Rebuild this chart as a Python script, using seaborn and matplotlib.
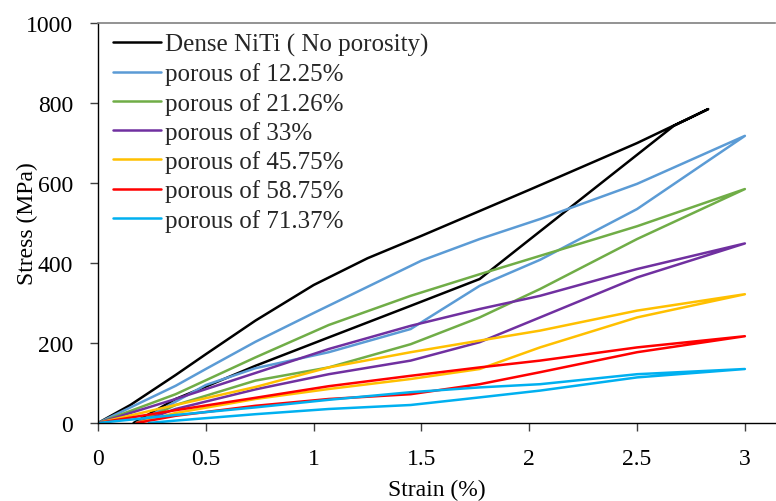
import matplotlib
matplotlib.use("Agg")
import matplotlib.pyplot as plt
import seaborn as sns
import pandas as pd

# ---- data (strain in %, stress in MPa) ----
series_names = ["Dense NiTi ( No porosity)", "porous of 12.25%", "porous of 21.26%",
                "porous of 33%", "porous of 45.75%", "porous of 58.75%", "porous of 71.37%"]
colors = ["#000000", "#5B9BD5", "#70AD47", "#7030A0", "#FFC000", "#FF0000", "#00B0F0"]

dense_load_strain = [0, 0.15, 0.36, 0.5, 0.73, 1.0, 1.25, 1.5, 2.0, 2.5, 2.83]
dense_load_stress = [0, 45, 120, 172, 256, 345, 412, 468, 583, 700, 785]
dense_unload_strain = [2.83, 2.67, 2.0, 1.77, 1.45, 1.07, 0.73, 0.5, 0.36, 0.165]
dense_unload_stress = [785, 743, 458, 360, 293, 214, 143, 91, 60, 0]

p12_load_strain = [0, 0.36, 0.5, 0.73, 1.0, 1.5, 1.77, 2.05, 2.5, 3.0]
p12_load_stress = [0, 93, 135, 203, 275, 406, 460, 510, 598, 718]
p12_unload_strain = [3.0, 2.5, 2.05, 1.77, 1.45, 1.07, 0.73, 0.5, 0.18]
p12_unload_stress = [718, 535, 408, 343, 235, 177, 137, 95, 0]

p21_load_strain = [0, 0.36, 0.73, 1.07, 1.45, 1.77, 2.05, 2.5, 3.0]
p21_load_stress = [0, 72, 164, 245, 318, 372, 418, 492, 585]
p21_unload_strain = [3.0, 2.5, 2.05, 1.77, 1.45, 1.07, 0.73, 0.36, 0.18]
p21_unload_stress = [585, 460, 335, 264, 197, 139, 106, 45, 0]

p33_load_strain = [0, 0.36, 0.73, 1.07, 1.45, 1.77, 2.05, 2.5, 3.0]
p33_load_stress = [0, 60, 125, 185, 243, 285, 318, 385, 449]
p33_unload_strain = [3.0, 2.5, 2.05, 1.77, 1.45, 1.07, 0.73, 0.36, 0.18]
p33_unload_stress = [449, 364, 264, 202, 156, 122, 84, 35, 0]

p45_load_strain = [0, 0.36, 0.73, 1.07, 1.45, 1.77, 2.05, 2.5, 3.0]
p45_load_stress = [0, 45, 90, 139, 177, 206, 231, 281, 322]
p45_unload_strain = [3.0, 2.5, 2.05, 1.77, 1.45, 1.07, 0.73, 0.36, 0.18]
p45_unload_stress = [322, 264, 189, 135, 110, 85, 60, 25, 0]

p58_load_strain = [0, 0.36, 0.73, 1.07, 1.45, 1.77, 2.05, 2.5, 3.0]
p58_load_stress = [0, 32, 63, 92, 118, 139, 156, 189, 217]
p58_unload_strain = [3.0, 2.5, 2.05, 1.77, 1.45, 1.07, 0.73, 0.36, 0.18]
p58_unload_stress = [217, 177, 127, 97, 72, 60, 43, 18, 0]

p71_load_strain = [0, 0.36, 0.73, 1.07, 1.45, 1.77, 2.05, 2.5, 3.0]
p71_load_stress = [0, 20, 39, 58, 77, 89, 97, 122, 135]
p71_unload_strain = [3.0, 2.5, 2.05, 1.77, 1.45, 1.07, 0.73, 0.36, 0.235]
p71_unload_stress = [135, 114, 81, 64, 45, 35, 22, 6, 0]

x_ticks = [0, 0.5, 1, 1.5, 2, 2.5, 3]
x_tick_labels = ["0", "0.5", "1", "1.5", "2", "2.5", "3"]
y_ticks = [0, 200, 400, 600, 800, 1000]

loops = [
    (dense_load_strain, dense_load_stress, dense_unload_strain, dense_unload_stress),
    (p12_load_strain, p12_load_stress, p12_unload_strain, p12_unload_stress),
    (p21_load_strain, p21_load_stress, p21_unload_strain, p21_unload_stress),
    (p33_load_strain, p33_load_stress, p33_unload_strain, p33_unload_stress),
    (p45_load_strain, p45_load_stress, p45_unload_strain, p45_unload_stress),
    (p58_load_strain, p58_load_stress, p58_unload_strain, p58_unload_stress),
    (p71_load_strain, p71_load_stress, p71_unload_strain, p71_unload_stress),
]

rows = []
for name, (ls, lst, us, ust) in zip(series_names, loops):
    strain = list(ls) + list(us[1:])
    stress = list(lst) + list(ust[1:])
    for i, (a, b) in enumerate(zip(strain, stress)):
        rows.append({"series": name, "order": i, "strain": a, "stress": b})
df = pd.DataFrame(rows)

# ---- plot ----
sns.set_theme(style="white")
plt.rcParams["font.family"] = ["Liberation Serif", "DejaVu Serif"]

FS = 17
fig = plt.figure(figsize=(7.76, 5.02), dpi=100)
ax = fig.add_axes([0.1263, 0.1554, 0.8725, 0.7966])

sns.lineplot(data=df, x="strain", y="stress", hue="series", hue_order=series_names,
             palette=colors, sort=False, estimator=None, units="series",
             linewidth=1.8, ax=ax, legend=True)

ax.set_xlim(0, 3.14)
ax.set_ylim(0, 1000)
ax.set_xticks(x_ticks)
ax.set_xticklabels(x_tick_labels)
ax.set_yticks(y_ticks)
ax.tick_params(axis="both", which="major", direction="out", length=6, width=1,
               color="#404040", labelsize=FS, bottom=True, left=True, labelcolor="black")
ax.tick_params(axis="x", pad=12)
ax.tick_params(axis="y", pad=12)

for side in ["left", "bottom"]:
    ax.spines[side].set_color("#000000")
    ax.spines[side].set_linewidth(1.0)
ax.spines["top"].set_color("#808080")
ax.spines["top"].set_linewidth(1.2)
ax.spines["right"].set_visible(False)

ax.set_xlabel("Strain (%)", fontsize=FS, labelpad=7, color="black")
ax.set_ylabel("Stress (MPa)", fontsize=FS, color="black")
ax.yaxis.set_label_coords(-0.088, 0.5)

handles, labels = ax.get_legend_handles_labels()
leg = ax.legend(handles, labels, loc="upper left", bbox_to_anchor=(0.008, 1.0),
                frameon=False, fontsize=18, handlelength=1.9, handletextpad=0.15,
                labelspacing=0.25, borderaxespad=0.0)
for h in leg.get_lines():
    h.set_linewidth(1.8)

fig.savefig("out.png", dpi=100)
